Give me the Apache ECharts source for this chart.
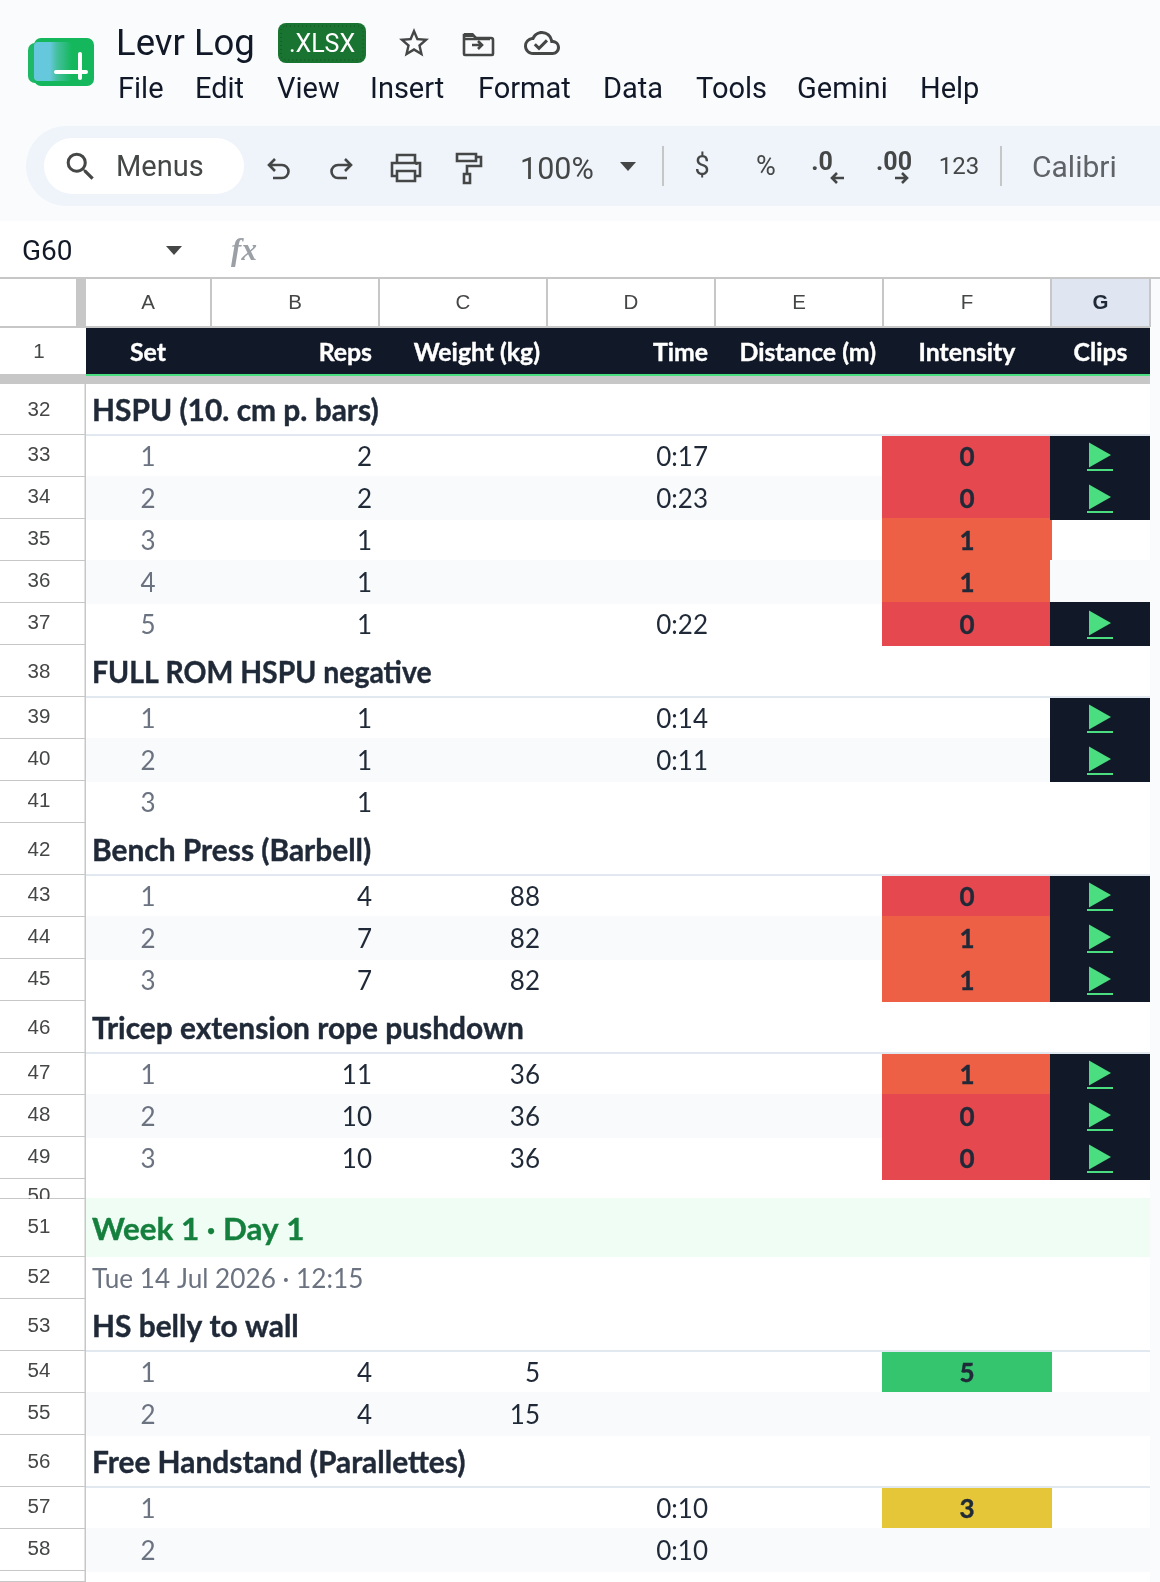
<!DOCTYPE html>
<html>
<head>
<meta charset="utf-8">
<title>Levr Log</title>
<script src="https://cdn.jsdelivr.net/npm/echarts@6/dist/echarts.min.js"></script>
<style>
  html, body { margin: 0; padding: 0; background: #f9fbfd; }
  #chart { width: 1160px; height: 1582px; }
</style>
</head>
<body>
<div id="chart"></div>
<script>
// values, one entry per row from row 32 down
const columnLetters = ['A', 'B', 'C', 'D', 'E', 'F', 'G'];
const columnTitles = ['Set', 'Reps', 'Weight (kg)', 'Time', 'Distance (m)', 'Intensity', 'Clips'];
const rowLabels = ['32', '33', '34', '35', '36', '37', '38', '39', '40', '41', '42', '43', '44', '45', '46', '47', '48', '49', '50', '51', '52', '53', '54', '55', '56', '57', '58', ''];
const titleValues = ['HSPU (10. cm p. bars)', null, null, null, null, null, 'FULL ROM HSPU negative', null, null, null, 'Bench Press (Barbell)', null, null, null, 'Tricep extension rope pushdown', null, null, null, null, null, null, 'HS belly to wall', null, null, 'Free Handstand (Parallettes)', null, null, null];
const setValues = [null, 1, 2, 3, 4, 5, null, 1, 2, 3, null, 1, 2, 3, null, 1, 2, 3, null, null, null, null, 1, 2, null, 1, 2, null];
const repsValues = [null, 2, 2, 1, 1, 1, null, 1, 1, 1, null, 4, 7, 7, null, 11, 10, 10, null, null, null, null, 4, 4, null, null, null, null];
const weightValues = [null, null, null, null, null, null, null, null, null, null, null, 88, 82, 82, null, 36, 36, 36, null, null, null, null, 5, 15, null, null, null, null];
const timeValues = [null, '0:17', '0:23', null, null, '0:22', null, '0:14', '0:11', null, null, null, null, null, null, null, null, null, null, null, null, null, null, null, null, '0:10', '0:10', null];
const intensityValues = [null, 0, 0, 1, 1, 0, null, null, null, null, null, 0, 1, 1, null, 1, 0, 0, null, null, null, null, 5, null, null, 3, null, null];
const clipValues = [null, 1, 1, null, null, 1, null, 1, 1, null, null, 1, 1, 1, null, 1, 1, 1, null, null, null, null, null, null, null, null, null, null];
const weekLabel = 'Week 1 · Day 1';
const dateLabel = 'Tue 14 Jul 2026 · 12:15';
const menuItems = ['File', 'Edit', 'View', 'Insert', 'Format', 'Data', 'Tools', 'Gemini', 'Help'];

// sheet geometry
const colEdges = [85, 211, 379, 547, 715, 883, 1051, 1150];
const rowEdges = [384, 435, 477, 519, 561, 603, 645, 697, 739, 781, 823, 875, 917, 959, 1001, 1053, 1095, 1137, 1179, 1199, 1257, 1299, 1351, 1393, 1435, 1487, 1529, 1571, 1582];
const menuLefts = [118, 195, 277, 370, 478, 603, 696, 797, 920];
const weekRow = rowLabels.indexOf('51');
const dateRow = rowLabels.indexOf('52');

const intensityColors = { 0: '#e5494f', 1: '#ee6045', 3: '#e6c639', 5: '#35c56f' };
const gridLine = '#c7c7c7';
const uiFont = 'Roboto';
const cellFont = 'Lato';
const headFont = '"Liberation Sans"';
const cellSize = 26;

function box(api, x0, y0, x1, y1, fill) {
  const a = api.coord([x0, y0]);
  const b = api.coord([x1, y1]);
  return { type: 'rect', shape: { x: a[0], y: a[1], width: b[0] - a[0], height: b[1] - a[1] }, style: { fill: fill } };
}

function label(api, x, y, text, opts) {
  const p = api.coord([x, y]);
  const style = {
    text: text,
    fill: opts.fill, align: opts.align || 'center', verticalAlign: 'middle',
    fontFamily: opts.family || cellFont, fontSize: opts.size || cellSize, fontWeight: opts.weight || 'normal'
  };
  // Lato's bold is lighter than the sheet's Calibri bold
  if (opts.weight === 'bold' && !opts.family) { style.stroke = opts.fill; style.lineWidth = 0.4; }
  return { type: 'text', x: p[0], y: p[1], scaleX: opts.scaleX || 1, style: style };
}

function colCenter(c) { return (colEdges[c] + colEdges[c + 1]) / 2 + 1; }
function rowCenter(r) { return (rowEdges[r] + rowEdges[r + 1]) / 2; }
function isBand(r) { return setValues[r] !== null && setValues[r] % 2 === 0; }

// filled cells in F and G share the same top and bottom rule
function cellTop(r) { return titleValues[r - 1] ? rowEdges[r] + 1 : rowEdges[r] - 1; }
function cellBottom(r) { return isBand(r + 1) ? rowEdges[r + 1] - 1 : rowEdges[r + 1] + 1; }

const rowIndexes = rowLabels.map(function (l, i) { return [0, i]; });
const colIndexes = columnLetters.map(function (l, i) { return [i, 0]; });

function customSeries(data, renderItem) {
  return { type: 'custom', coordinateSystem: 'cartesian2d', silent: true, animation: false, data: data, renderItem: renderItem };
}

function renderColumnHead(params, api) {
  const c = params.dataIndex;
  const selected = columnLetters[c] === 'G';
  const kids = [];
  if (selected) kids.push(box(api, colEdges[c] + 1, 279, colEdges[c + 1] - 1, 326, '#dfe6f2'));
  kids.push(box(api, colEdges[c + 1] - 1, 279, colEdges[c + 1] + 1, 327, gridLine));
  kids.push(label(api, colCenter(c) - 1, 303, columnLetters[c], {
    family: headFont, size: 20.5, fill: selected ? '#1f2937' : '#444746', weight: selected ? 'bold' : 'normal'
  }));
  return { type: 'group', children: kids };
}

function renderColumnTitle(params, api) {
  const c = params.dataIndex;
  const style = { fill: '#ffffff', weight: 'bold', size: 24.8 };
  if (c === 0 || c >= 5) return label(api, colCenter(c) - 1, 353, columnTitles[c], style);
  style.align = 'right';
  return label(api, colEdges[c + 1] - 7, 353, columnTitles[c], style);
}

function renderRowHead(params, api) {
  const r = params.dataIndex;
  const h = rowEdges[r + 1] - rowEdges[r];
  const y = r === rowLabels.indexOf('50') ? 1196 : rowCenter(r) + (h > 45 && h < 55 ? 1 : -1);
  return {
    type: 'group',
    children: [
      box(api, 0, rowEdges[r], 85, rowEdges[r + 1], '#ffffff'),
      box(api, 0, rowEdges[r + 1] - 1, 85, rowEdges[r + 1] + 1, gridLine),
      label(api, 39, y, rowLabels[r], { family: headFont, size: 20.5, fill: '#444746' }),
      box(api, 84.5, rowEdges[r], 86, rowEdges[r + 1] + 1, gridLine)
    ]
  };
}

function renderRow(params, api) {
  const r = params.dataIndex;
  const kids = [];
  if (isBand(r)) kids.push(box(api, 86, rowEdges[r] - 1, 1150, rowEdges[r + 1] + 1, '#f9fafb'));
  if (titleValues[r]) kids.push(box(api, 86, rowEdges[r + 1] - 1, 1150, rowEdges[r + 1] + 1, '#e2e8f0'));
  if (r === weekRow) kids.push(box(api, 86, rowEdges[r] - 1, 1150, rowEdges[r + 1], '#f0fdf4'));
  return { type: 'group', children: kids };
}

function renderIntensityFill(params, api) {
  const r = params.dataIndex;
  const v = intensityValues[r];
  if (v === null) return null;
  return box(api, 882, cellTop(r), 1052, cellBottom(r), intensityColors[v]);
}

function renderClip(params, api) {
  const r = params.dataIndex;
  const kids = [];
  // even rows repaint their band over the 2px the intensity fill leaks into G
  if (isBand(r)) kids.push(box(api, 1050, rowEdges[r] - 1, 1150, rowEdges[r + 1] + 1, '#f9fafb'));
  if (clipValues[r]) {
    kids.push(box(api, 1050, cellTop(r), 1150, cellBottom(r), '#111827'));
    const cy = rowCenter(r) - 1;
    const a = api.coord([1089, cy - 12.5]);
    const b = api.coord([1111, cy]);
    const c = api.coord([1089, cy + 12.5]);
    kids.push({ type: 'polygon', shape: { points: [a, b, c] }, style: { fill: '#4ade80' } });
    kids.push(box(api, 1087, cy + 14, 1113, cy + 16, '#4ade80'));
  }
  return { type: 'group', children: kids };
}

function renderRowText(params, api) {
  const r = params.dataIndex;
  const kids = [];
  const y = rowCenter(r) + 1;
  const dark = '#1f2937';
  if (titleValues[r]) {
    // Lato's capitals run wider than Calibri's, only the all-caps title shows it
    const squeeze = titleValues[r].indexOf('FULL') === 0 ? 0.95 : 1;
    kids.push(label(api, 92, y + 1, titleValues[r], { align: 'left', weight: 'bold', size: 29.9, fill: dark, scaleX: squeeze }));
  }
  if (r === weekRow) kids.push(label(api, 92, y + 1, weekLabel, { align: 'left', weight: 'bold', size: 31.4, fill: '#15803d' }));
  if (r === dateRow) kids.push(label(api, 92, y + 1, dateLabel, { align: 'left', fill: '#6b7280', size: 26.2 }));
  if (setValues[r] !== null) kids.push(label(api, colCenter(0) - 1, y + 1, String(setValues[r]), { fill: '#6b7280' }));
  if (repsValues[r] !== null) kids.push(label(api, colEdges[2] - 7, y + 1, String(repsValues[r]), { align: 'right', fill: dark }));
  if (weightValues[r] !== null) kids.push(label(api, colEdges[3] - 7, y + 1, String(weightValues[r]), { align: 'right', fill: dark }));
  if (timeValues[r] !== null) kids.push(label(api, colEdges[4] - 7, y + 1, timeValues[r], { align: 'right', fill: dark }));
  if (intensityValues[r] !== null) kids.push(label(api, colCenter(5) - 1, y + 1, String(intensityValues[r]), { weight: 'bold', fill: dark }));
  return { type: 'group', children: kids };
}

// toolbar and title chrome
function txt(x, y, text, size, fill, extra) {
  return {
    type: 'text', x: x, y: y,
    style: Object.assign({ text: text, fontFamily: uiFont, fontSize: size, fill: fill, verticalAlign: 'middle', align: 'left' }, extra || {})
  };
}
function icon(d, x, y, scale, style) {
  return { type: 'path', x: x, y: y, scaleX: scale, scaleY: scale, shape: { pathData: d }, style: style };
}
function rect(x, y, w, h, r, fill) {
  return { type: 'rect', shape: { x: x, y: y, width: w, height: h, r: r }, style: { fill: fill } };
}

const iconColor = '#444746';
const strokeIcon = { fill: 'none', stroke: iconColor, lineWidth: 2.6 };

function renderChrome() {
  const chrome = [
    // frame around the grid
    rect(0, 278, 1160, 1304, 0, '#f9fbfd'),
    rect(0, 279, 1150, 1303, 0, '#ffffff'),
    rect(0, 277, 1160, 2, 0, gridLine),
    rect(0, 326, 1150, 2, 0, gridLine),
    rect(76, 279, 10, 47, 0, gridLine),
    rect(86, 328, 1064, 46, 0, '#111827'),
    rect(0, 374, 1150, 10, 0, gridLine),
    rect(86, 374, 1064, 2, 0, '#4ade80'),
    txt(39, 352, '1', 20.5, iconColor, { align: 'center', fontFamily: headFont }),

    rect(0, 0, 1160, 221, 0, '#f9fbfd'),
    rect(0, 221, 1160, 56, 0, '#ffffff'),
    rect(26, 126, 1160, 80, [40, 0, 0, 40], '#eff3fa'),
    rect(44, 138, 200, 56, 28, '#ffffff'),

    // logo
    rect(28, 43, 30, 40, 7, '#1fb866'),
    rect(34, 38, 60, 48, 7, '#14b75b'),
    {
      type: 'rect', shape: { x: 34, y: 42, width: 38, height: 39, r: 4 },
      style: { fill: { type: 'linear', x: 0, y: 0, x2: 1, y2: 0, colorStops: [
        { offset: 0, color: '#66c8dc' }, { offset: 0.42, color: '#66c8dc' }, { offset: 0.6, color: '#45c0a0' }, { offset: 1, color: '#14b75b' }
      ] } }
    },
    rect(54, 70, 34, 4, 2, '#ffffff'),
    rect(78, 52, 4, 28, 2, '#ffffff'),

    txt(116, 46, 'Levr Log', 36.5, '#111827'),
    rect(278, 23, 88, 40, 8, '#1a7431'),
    { type: 'rect', shape: { x: 281, y: 26, width: 82, height: 34, r: 5 }, style: { fill: 'none', stroke: '#0f4f20', lineWidth: 1, lineDash: [1, 3] } },
    txt(322, 46, '.XLSX', 25, '#ffffff', { align: 'center' }),

    icon('M22 9.24l-7.19-.62L12 2 9.19 8.63 2 9.24l5.46 4.73L5.82 21 12 17.27 18.18 21l-1.63-7.03L22 9.24zM12 15.4l-3.76 2.27 1-4.28-3.32-2.88 4.38-.38L12 6.1l1.71 4.04 4.38.38-3.32 2.88 1 4.28L12 15.4z', 396, 25, 1.5, { fill: iconColor }),
    icon('M2 4 H11 L14 7 H29 a2 2 0 0 1 2 2 V23 a1 1 0 0 1 -1 1 H3 a1 1 0 0 1 -1 -1 Z M2 7 V8 H28', 462, 31, 1, strokeIcon),
    icon('M2 2 H11 L14 6 H2 Z', 462, 31, 1, { fill: iconColor }),
    icon('M10 14 H20 M16 10 L20 14 L16 18', 462, 31, 1, strokeIcon),
    icon('M19.35 10.04A7.49 7.49 0 0 0 12 4C9.11 4 6.6 5.64 5.35 8.04A5.994 5.994 0 0 0 0 14c0 3.31 2.69 6 6 6h13c2.76 0 5-2.24 5-5 0-2.64-2.05-4.78-4.65-4.96zM19 18H6c-2.21 0-4-1.79-4-4 0-2.05 1.53-3.76 3.56-3.97l1.07-.11.5-.95A5.469 5.469 0 0 1 12 6c2.62 0 4.88 1.86 5.39 4.43l.3 1.5 1.53.11A2.98 2.98 0 0 1 22 15c0 1.65-1.35 3-3 3zm-9-3.82l-2.09-2.09L6.5 13.5 10 17l6.01-6.01-1.41-1.41z', 524, 25, 1.5, { fill: iconColor }),

    // toolbar
    icon('M15.5 14h-.79l-.28-.27A6.471 6.471 0 0 0 16 9.5 6.5 6.5 0 1 0 9.5 16c1.61 0 3.09-.59 4.23-1.57l.27.28v.79l5 4.99L20.49 19l-4.99-5zm-6 0C7.01 14 5 11.99 5 9.5S7.01 5 9.5 5 14 7.01 14 9.5 11.99 14 9.5 14z', 62, 148, 1.55, { fill: iconColor }),
    txt(116, 169, 'Menus', 29, iconColor),
    icon('M9 1 L3 7 L9 13 M3 7 H16 a6.5 6.5 0 0 1 0 13 H7', 266, 158, 1, strokeIcon),
    icon('M15 1 L21 7 L15 13 M21 7 H8 a6.5 6.5 0 0 0 0 13 H17', 330, 158, 1, strokeIcon),
    icon('M7 10 V2 H25 V10 M7 23 H2 V10 H30 V23 H25 M7 18 H25 V28 H7 Z', 390, 153, 1, strokeIcon),
    rect(415, 162, 3, 3, 1.5, iconColor),
    icon('M3 2 H22 V9 H3 Z M22 5 H27 V14 H13 V22 M10 22 H16 V31 H10 Z', 454, 152, 1, strokeIcon),
    txt(520, 171, '100%', 30.5, iconColor),
    icon('M0 0 H16 L8 9 Z', 620, 162, 1, { fill: iconColor }),
    rect(662, 146, 2, 40, 0, '#c4c7c5'),
    txt(702, 168, '$', 27, iconColor, { align: 'center' }),
    txt(766, 168, '%', 27, iconColor, { align: 'center' }),
    txt(822, 164, '.0', 25, iconColor, { align: 'center', fontWeight: 'bold' }),
    icon('M14 0 H2 M7 -5 L2 0 L7 5', 830, 178, 1, strokeIcon),
    txt(894, 164, '.00', 25, iconColor, { align: 'center', fontWeight: 'bold' }),
    icon('M0 0 H12 M7 -5 L12 0 L7 5', 895, 178, 1, strokeIcon),
    txt(959, 168, '123', 24, iconColor, { align: 'center' }),
    rect(1000, 146, 2, 40, 0, '#c4c7c5'),
    txt(1032, 169, 'Calibri', 30, '#5f6368'),

    // formula bar
    txt(22, 253, 'G60', 28, '#111827'),
    icon('M0 0 H16 L8 9 Z', 166, 246, 1, { fill: iconColor }),
    txt(244, 252, 'fx', 31, '#9aa0a6', { align: 'center', fontFamily: '"Liberation Serif"', fontStyle: 'italic', fontWeight: 'bold' })
  ];
  menuItems.forEach(function (m, i) { chrome.push(txt(menuLefts[i], 91, m, 29, '#111827')); });
  return { type: 'group', children: chrome };
}

const option = {
  animation: false,
  backgroundColor: '#ffffff',
  grid: { left: 0, right: 0, top: 0, bottom: 0 },
  xAxis: { type: 'value', min: 0, max: 1160, show: false },
  yAxis: { type: 'value', min: 0, max: 1582, inverse: true, show: false },
  series: [
    customSeries([[0, 0]], renderChrome),
    customSeries(colIndexes, renderColumnHead),
    customSeries(colIndexes, renderColumnTitle),
    customSeries(rowIndexes, renderRow),
    customSeries(rowIndexes, renderIntensityFill),
    customSeries(rowIndexes, renderClip),
    customSeries(rowIndexes, renderRowHead),
    customSeries(rowIndexes, renderRowText)
  ]
};

const chart = echarts.init(document.getElementById('chart'), null, { width: 1160, height: 1582 });
chart.setOption(option);
</script>
</body>
</html>
